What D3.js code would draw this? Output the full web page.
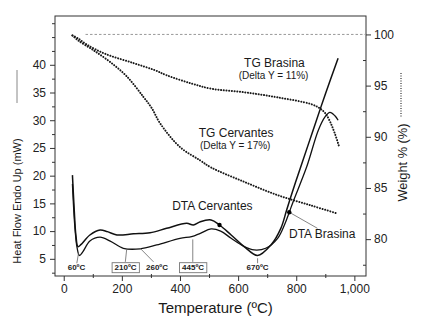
<!DOCTYPE html>
<html>
<head>
<meta charset="utf-8">
<script src="https://cdn.jsdelivr.net/npm/d3@7"></script>
<style>
  body { margin: 0; background: #fff; }
  svg { font-family: 'Liberation Sans', Arial, sans-serif; }
</style>
</head>
<body>
<div id="chart"></div>
<script>
// Datos: [temperatura ºC, valor]
const tgBrasina = [[30,99.9],[50,99.6],[80,99.0],[143,98.1],[240,97.2],[314,96.5],[355,96.0],[440,95.2],[507,94.7],
  [621,94.35],[736,93.85],[850,93.2],[880,92.8],[900,92.3],[916,91.5],[933,90.3],[948,89.0]];
const tgCervantes = [[30,99.9],[50,99.4],[100,98.5],[160,97.3],[217,95.9],[274,93.9],[303,92.8],[332,91.3],[400,89.0],
  [469,87.7],[507,87.0],[621,85.6],[736,84.3],[850,83.3],[942,82.5]];
const dtaCervantes = [[30,20.1],[36,14],[42,9.2],[49,7.2],[60,7.6],[90,9.3],[125,10.2],[150,9.9],[183,9.3],[240,9.5],
  [297,9.7],[354,10.5],[423,11.4],[446,11.1],[470,11.7],[507,12.0],[536,11.1],[576,9.3],[621,7.2],[667,5.6],
  [713,7.5],[747,10.5],[767,13.8],[790,17.6],[813,21.2],[858,28.2],[900,34.7],[944,41.2]];
const dtaBrasina = [[30,18.5],[38,11],[46,7],[54,5.6],[65,6.2],[90,8.2],[125,8.9],[160,8.2],[205,6.9],[263,6.8],
  [320,7.5],[400,8.7],[440,9.0],[470,9.6],[507,10.4],[540,10.0],[576,8.7],[621,7.2],[655,6.6],[695,6.9],
  [736,8.7],[760,11.2],[776,13.4],[790,15.4],[836,21.6],[876,28.2],[899,30.6],[916,31.4],[933,30.8],[944,30.0]];

const xTicks = [0, 200, 400, 600, 800, 1000];
const xMinor = [100, 300, 500, 700, 900];
const leftTicks = [5, 10, 15, 20, 25, 30, 35, 40];
const leftMinor = [2.5, 7.5, 12.5, 17.5, 22.5, 27.5, 32.5, 37.5, 42.5, 45, 47.5];
const rightTicks = [80, 85, 90, 95, 100];
const rightMinor = [77.5, 82.5, 87.5, 92.5, 97.5];

// anotaciones de temperatura: texto, posición (T, mW), línea guía
const tempNotes = [
  { text: '60ºC', t: 44, v: 2.95, box: false, from: [51, 6.0], to: [45, 4.2] },
  { text: '210ºC', t: 213, v: 2.95, box: true, from: [217, 6.9], to: [212, 4.45] },
  { text: '260ºC', t: 321, v: 2.95, box: false, from: [263, 6.9], to: [309, 4.45] },
  { text: '445ºC', t: 445, v: 2.95, box: true, from: [444, 8.5], to: [444, 4.45] },
  { text: '670ºC', t: 667, v: 3.0, box: false, from: [667, 5.1], to: [667, 4.2] }
];

const width = 422;
const height = 336;
const plotLeft = 55, plotRight = 366, plotTop = 16, plotBottom = 276;

const svg = d3.select('#chart').append('svg')
  .attr('width', width)
  .attr('height', height);

const x = d3.scaleLinear().domain([-30, 1040]).range([plotLeft, plotRight]);
const yL = d3.scaleLinear().domain([1.9, 48.8]).range([plotBottom, plotTop]);
const yR = d3.scaleLinear().domain([76.4, 101.8]).range([plotBottom, plotTop]);

// Ejes
function styleAxis(g) {
  g.select('.domain').remove();
  g.selectAll('line').attr('stroke', '#333');
  g.selectAll('text').attr('fill', '#222').style('font-size', '12px');
}

svg.append('g').attr('transform', `translate(0,${plotBottom})`)
  .call(d3.axisBottom(x).tickValues(xTicks).tickSize(5).tickPadding(3))
  .call(styleAxis);
svg.append('g').attr('transform', `translate(0,${plotBottom + 2})`)
  .call(d3.axisBottom(x).tickValues(xMinor).tickSize(-4).tickFormat(''))
  .call(styleAxis);

svg.append('g').attr('transform', `translate(${plotLeft},0)`)
  .call(d3.axisLeft(yL).tickValues(leftTicks).tickSize(5).tickPadding(4))
  .call(styleAxis);
svg.append('g').attr('transform', `translate(${plotLeft},0)`)
  .call(d3.axisLeft(yL).tickValues(leftMinor).tickSize(3).tickFormat(''))
  .call(styleAxis);

svg.append('g').attr('transform', `translate(${plotRight},0)`)
  .call(d3.axisRight(yR).tickValues(rightTicks).tickSize(5).tickPadding(3))
  .call(styleAxis);
svg.append('g').attr('transform', `translate(${plotRight},0)`)
  .call(d3.axisRight(yR).tickValues(rightMinor).tickSize(-3).tickFormat(''))
  .call(styleAxis);

svg.append('rect')
  .attr('x', plotLeft).attr('y', plotTop)
  .attr('width', plotRight - plotLeft).attr('height', plotBottom - plotTop)
  .attr('fill', 'none').attr('stroke', '#333').attr('stroke-width', 1);

// Línea 100 %
svg.append('line')
  .attr('x1', x(75)).attr('x2', plotRight)
  .attr('y1', yR(100)).attr('y2', yR(100))
  .attr('stroke', '#999').attr('stroke-width', 1)
  .attr('stroke-dasharray', '2.5 2');

const lineR = d3.line().x(d => x(d[0])).y(d => yR(d[1])).curve(d3.curveCatmullRom.alpha(0.5));
const lineL = d3.line().x(d => x(d[0])).y(d => yL(d[1])).curve(d3.curveCatmullRom.alpha(0.5));

[tgBrasina, tgCervantes].forEach(serie => {
  svg.append('path')
    .attr('d', lineR(serie))
    .attr('fill', 'none')
    .attr('stroke', '#1a1a1a')
    .attr('stroke-width', 2)
    .attr('stroke-linecap', 'round')
    .attr('stroke-dasharray', '0.1 2.6');
});

svg.append('path')
  .attr('d', lineL(dtaBrasina))
  .attr('fill', 'none').attr('stroke', '#111').attr('stroke-width', 1.3);
svg.append('path')
  .attr('d', lineL(dtaCervantes))
  .attr('fill', 'none').attr('stroke', '#111').attr('stroke-width', 1.5);

// Etiquetas de las series
function label(txt, px, py, size, anchor) {
  return svg.append('text')
    .attr('x', px).attr('y', py)
    .attr('text-anchor', anchor || 'middle')
    .attr('fill', '#1a1a1a')
    .style('font-size', size + 'px')
    .text(txt);
}

label('TG Brasina', x(725), yR(96.8), 12);
label('(Delta Y = 11%)', x(722), yR(95.6), 10);
label('TG Cervantes', x(593), yR(89.96), 12);
label('(Delta Y = 17%)', x(590), yR(88.8), 10);
label('DTA Cervantes', x(373), yL(13.8), 12, 'start');
label('DTA Brasina', x(775), yL(8.7), 12, 'start');

// Puntos y guía
svg.append('circle').attr('cx', x(536)).attr('cy', yL(11.1)).attr('r', 2.2).attr('fill', '#000');
svg.append('line')
  .attr('x1', x(776)).attr('y1', yL(13.4)).attr('x2', x(873)).attr('y2', yL(10.5))
  .attr('stroke', '#777').attr('stroke-width', 0.9);
svg.append('circle').attr('cx', x(776)).attr('cy', yL(13.4)).attr('r', 2.2).attr('fill', '#000');

// Temperaturas
tempNotes.forEach(n => {
  svg.append('line')
    .attr('x1', x(n.from[0])).attr('y1', yL(n.from[1]))
    .attr('x2', x(n.to[0])).attr('y2', yL(n.to[1]))
    .attr('stroke', '#666').attr('stroke-width', 0.8);
  const t = svg.append('text')
    .attr('x', x(n.t)).attr('y', yL(n.v))
    .attr('text-anchor', 'middle')
    .attr('fill', '#222')
    .style('font-size', '8px').style('font-weight', 'bold')
    .text(n.text);
  if (n.box) {
    const bb = t.node().getBBox();
    svg.append('rect')
      .attr('x', bb.x - 2.5).attr('y', bb.y - 0.5)
      .attr('width', bb.width + 5).attr('height', bb.height + 1)
      .attr('fill', 'none').attr('stroke', '#777').attr('stroke-width', 0.9);
  }
});

// Títulos de ejes
svg.append('text')
  .attr('transform', `translate(${(plotLeft + plotRight) / 2 + 5},313)`)
  .attr('text-anchor', 'middle')
  .attr('fill', '#1a1a1a')
  .style('font-size', '15px')
  .text('Temperature (ºC)');

svg.append('text')
  .attr('transform', 'translate(20.5,201) rotate(-90)')
  .attr('text-anchor', 'middle')
  .attr('fill', '#1a1a1a')
  .style('font-size', '11px')
  .text('Heat Flow Endo Up (mW)');
svg.append('line')
  .attr('x1', 17).attr('x2', 17).attr('y1', 70).attr('y2', 103)
  .attr('stroke', '#888').attr('stroke-width', 1);

svg.append('text')
  .attr('transform', 'translate(406.5,162.5) rotate(-90)')
  .attr('text-anchor', 'middle')
  .attr('fill', '#1a1a1a')
  .style('font-size', '12.8px')
  .text('Weight % (%)');
svg.append('line')
  .attr('x1', 401).attr('x2', 401).attr('y1', 73).attr('y2', 117)
  .attr('stroke', '#333').attr('stroke-width', 1.2)
  .attr('stroke-dasharray', '1 1.5');
</script>
</body>
</html>
